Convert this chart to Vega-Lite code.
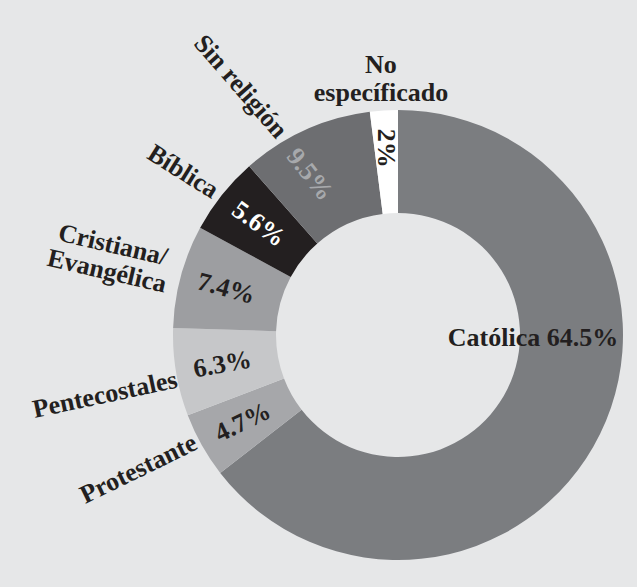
{
  "$schema": "https://vega.github.io/schema/vega-lite/v6.json",
  "width": 478,
  "height": 504,
  "autosize": {"type": "none"},
  "padding": {"left": 159, "top": 83, "right": 0, "bottom": 0},
  "background": "#e6e7e8",
  "config": {"view": {"stroke": null}},
  "data": {"values": [
    {"category": "Católica", "value": 64.5, "rank": 1, "inner": "Católica 64.5%", "outer": ""},
    {"category": "Protestante", "value": 4.7, "rank": 2, "inner": "4.7%", "outer": "Protestante"},
    {"category": "Pentecostales", "value": 6.3, "rank": 3, "inner": "6.3%", "outer": "Pentecostales"},
    {"category": "Cristiana/Evangélica", "value": 7.4, "rank": 4, "inner": "7.4%", "outer": "Cristiana/\nEvangélica"},
    {"category": "Bíblica", "value": 5.6, "rank": 5, "inner": "5.6%", "outer": "Bíblica"},
    {"category": "Sin religión", "value": 9.5, "rank": 6, "inner": "9.5%", "outer": "Sin religión"},
    {"category": "No especificado", "value": 2, "rank": 7, "inner": "2%", "outer": "No\nespecíficado"}
  ]},
  "encoding": {
    "theta": {"field": "value", "type": "quantitative", "stack": true},
    "order": {"field": "rank", "type": "quantitative", "sort": "ascending"}
  },
  "layer": [
    {
      "mark": {"type": "arc", "innerRadius": 122, "outerRadius": 225},
      "encoding": {
        "color": {
          "field": "category", "type": "nominal", "legend": null,
          "scale": {
            "domain": ["Católica", "Protestante", "Pentecostales", "Cristiana/Evangélica", "Bíblica", "Sin religión", "No especificado"],
            "range": ["#7b7d80", "#a6a7aa", "#c6c7c9", "#9d9ea1", "#231f20", "#6d6e71", "#ffffff"]
          }
        }
      }
    },
    {
      "mark": {"type": "text", "font": "Liberation Serif", "fontWeight": "bold", "fontSize": 26, "align": "center", "baseline": "middle", "radius": 178},
      "encoding": {
        "text": {"condition": {"test": "datum.rank >= 2 && datum.rank <= 5", "field": "inner", "type": "nominal"}, "value": ""},
        "angle": {"field": "rank", "type": "quantitative", "scale": {"type": "linear", "domain": [2, 3, 4, 5], "range": [-26, -10, 15, 36], "zero": false, "nice": false}},
        "fill": {
          "field": "category", "type": "nominal", "legend": null,
          "scale": {
            "domain": ["Católica", "Protestante", "Pentecostales", "Cristiana/Evangélica", "Bíblica", "Sin religión", "No especificado"],
            "range": ["#231f20", "#231f20", "#231f20", "#231f20", "#ffffff", "#a7a9ac", "#231f20"]
          }
        }
      }
    },
    {
      "mark": {"type": "text", "font": "Liberation Serif", "fontWeight": "bold", "fontSize": 26, "align": "center", "baseline": "middle", "radius": 187, "angle": 90, "fill": "#231f20"},
      "encoding": {
        "text": {"condition": {"test": "datum.rank == 7", "field": "inner", "type": "nominal"}, "value": ""}
      }
    },
    {
      "mark": {"type": "text", "font": "Liberation Serif", "fontWeight": "bold", "fontSize": 26, "align": "center", "baseline": "middle", "radius": 183, "thetaOffset": -0.0785, "angle": 52, "fill": "#a7a9ac"},
      "encoding": {
        "text": {"condition": {"test": "datum.rank == 6", "field": "inner", "type": "nominal"}, "value": ""}
      }
    },
    {
      "mark": {"type": "text", "font": "Liberation Serif", "fontWeight": "bold", "fontSize": 26, "align": "center", "baseline": "middle", "radius": 135, "thetaOffset": -0.433, "angle": 0, "fill": "#231f20"},
      "encoding": {
        "text": {"condition": {"test": "datum.rank == 1", "field": "inner", "type": "nominal"}, "value": ""}
      }
    },
    {
      "mark": {"type": "text", "font": "Liberation Serif", "fontWeight": "bold", "fontSize": 26, "align": "center", "baseline": "middle", "radius": 292, "thetaOffset": 0.035, "angle": -26, "fill": "#231f20"},
      "encoding": {
        "text": {"condition": {"test": "datum.rank == 2", "field": "outer", "type": "nominal"}, "value": ""}
      }
    },
    {
      "mark": {"type": "text", "font": "Liberation Serif", "fontWeight": "bold", "fontSize": 26, "align": "center", "baseline": "middle", "radius": 299, "thetaOffset": -0.035, "angle": -12, "fill": "#231f20"},
      "encoding": {
        "text": {"condition": {"test": "datum.rank == 3", "field": "outer", "type": "nominal"}, "value": ""}
      }
    },
    {
      "mark": {"type": "text", "font": "Liberation Serif", "fontWeight": "bold", "fontSize": 26, "align": "center", "baseline": "middle", "lineBreak": "\n", "lineHeight": 27, "radius": 299, "thetaOffset": 0.042, "angle": 13, "fill": "#231f20"},
      "encoding": {
        "text": {"condition": {"test": "datum.rank == 4", "field": "outer", "type": "nominal"}, "value": ""}
      }
    },
    {
      "mark": {"type": "text", "font": "Liberation Serif", "fontWeight": "bold", "fontSize": 26, "align": "center", "baseline": "middle", "radius": 270, "thetaOffset": -0.023, "angle": 32, "fill": "#231f20"},
      "encoding": {
        "text": {"condition": {"test": "datum.rank == 5", "field": "outer", "type": "nominal"}, "value": ""}
      }
    },
    {
      "mark": {"type": "text", "font": "Liberation Serif", "fontWeight": "bold", "fontSize": 26, "align": "center", "baseline": "middle", "radius": 294, "thetaOffset": -0.141, "angle": 49, "fill": "#231f20"},
      "encoding": {
        "text": {"condition": {"test": "datum.rank == 6", "field": "outer", "type": "nominal"}, "value": ""}
      }
    },
    {
      "mark": {"type": "text", "font": "Liberation Serif", "fontWeight": "bold", "fontSize": 26, "align": "center", "baseline": "middle", "lineBreak": "\n", "lineHeight": 28, "radius": 271, "angle": 0, "fill": "#231f20"},
      "encoding": {
        "text": {"condition": {"test": "datum.rank == 7", "field": "outer", "type": "nominal"}, "value": ""}
      }
    }
  ]
}
